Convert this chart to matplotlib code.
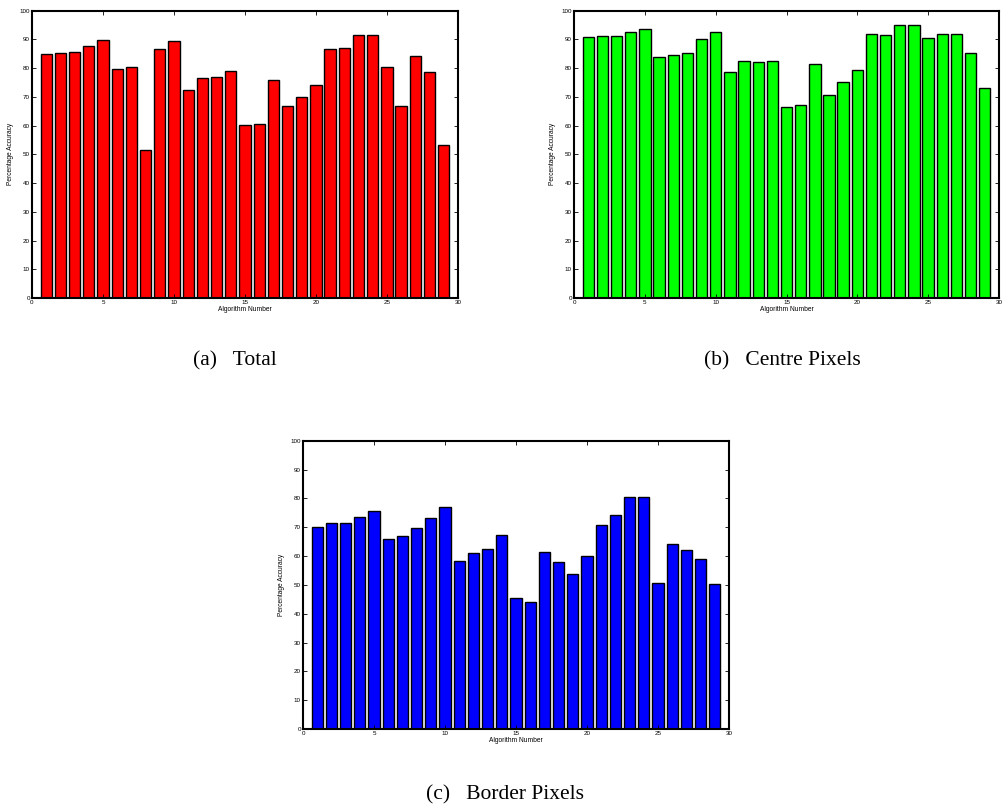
import numpy as np
import matplotlib
matplotlib.use("Agg")
import matplotlib.pyplot as plt

plt.rcParams['font.family'] = ['Liberation Sans', 'DejaVu Sans']

algorithms = list(range(1, 30))

total = [84.9, 85.2, 85.6, 87.6, 89.8, 79.6, 80.3, 51.4, 86.6, 89.5,
         72.3, 76.5, 76.8, 78.9, 60.1, 60.5, 75.8, 66.7, 69.8, 74.2,
         86.6, 86.9, 91.4, 91.4, 80.5, 66.9, 84.1, 78.7, 53.4]

centre = [90.7, 91.0, 91.1, 92.7, 93.7, 83.7, 84.7, 85.1, 90.0, 92.7,
          78.6, 82.4, 82.2, 82.6, 66.4, 67.1, 81.6, 70.6, 75.0, 79.3,
          91.8, 91.4, 95.1, 95.1, 90.4, 91.7, 92.0, 85.3, 73.0]

border = [70.0, 71.4, 71.6, 73.4, 75.8, 66.0, 66.9, 69.8, 73.2, 77.0,
          58.3, 61.2, 62.5, 67.3, 45.4, 44.0, 61.4, 58.1, 53.9, 60.1,
          70.9, 74.1, 80.5, 80.5, 50.6, 64.1, 62.2, 59.1, 50.3]

captions = ["(a)   Total", "(b)   Centre Pixels", "(c)   Border Pixels"]
colors = [(1, 0, 0), (0, 1, 0), (0, 0, 1)]

fig = plt.figure(figsize=(10.03, 8.05), dpi=100)

# axes boxes in figure fraction: left, bottom, width, height
boxes = [[0.0319, 0.6298, 0.4247, 0.357],
         [0.5723, 0.6298, 0.4237, 0.357],
         [0.3021, 0.0944, 0.4247, 0.358]]
caption_pos = [(0.2345, 0.5465), (0.7800, 0.5465), (0.5035, 0.0065)]


def bar_panel(ax, values, color):
    ax.bar(algorithms, values, width=0.8, color=color, edgecolor='black', linewidth=1.0)
    ax.set_xlim(0, 30)
    ax.set_ylim(0, 100)
    ax.set_xticks(range(0, 31, 5))
    ax.set_yticks(range(0, 101, 10))
    ax.tick_params(direction='in', length=3, width=0.6, labelsize=4.5, pad=1.5,
                   top=True, right=True)
    for s in ax.spines.values():
        s.set_linewidth(1.5)
    ax.set_xlabel("Algorithm Number", fontsize=4.8, labelpad=0.5)
    ax.set_ylabel("Percentage Accuracy", fontsize=4.8, labelpad=4)


for data, col, box, cap, cp in zip([total, centre, border], colors, boxes, captions, caption_pos):
    ax = fig.add_axes(box)
    bar_panel(ax, data, col)
    fig.text(cp[0], cp[1], cap, ha='center', va='baseline', fontsize=15.5,
             family=['Liberation Serif', 'DejaVu Serif'])

fig.savefig("out.png", dpi=100)
